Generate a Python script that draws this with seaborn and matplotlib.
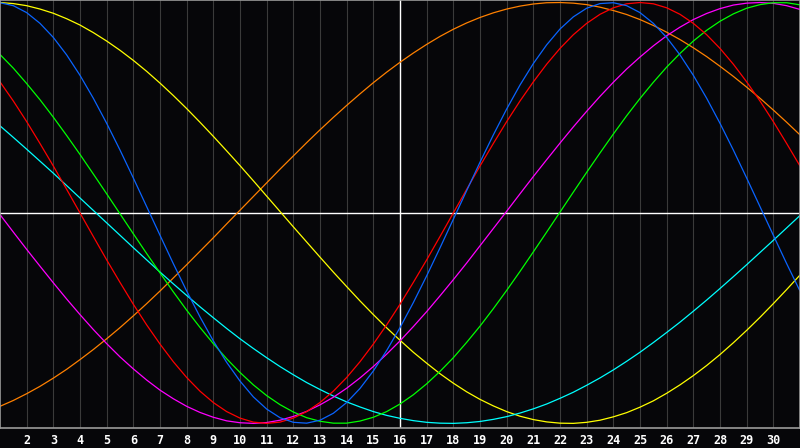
import pandas as pd
import matplotlib
matplotlib.use('Agg')
import matplotlib.pyplot as plt
import seaborn as sns

# half-day steps from day 1 to day 31; cycle values in percent (-100..100)
days = [1 + i / 2 for i in range(61)]

blue = [99.9, 98.5, 95.2, 90.1, 83.4, 75.1, 65.4, 54.5, 42.6, 29.9, 16.6, 3.0, -10.6, -24.1,
        -37.1, -49.4, -60.8, -71.0, -79.9, -87.4, -93.2, -97.3, -99.5, -99.9, -98.5, -95.2,
        -90.1, -83.4, -75.1, -65.4, -54.5, -42.6, -29.9, -16.6, -3.0, 10.6, 24.1, 37.1, 49.4,
        60.8, 71.0, 79.9, 87.4, 93.2, 97.3, 99.5, 99.9, 98.5, 95.2, 90.1, 83.4, 75.1, 65.4,
        54.5, 42.6, 29.9, 16.6, 3.0, -10.6, -24.1, -37.1]
red = [62.3, 53.2, 43.4, 33.0, 22.3, 11.2, 0.0, -11.2, -22.3, -33.0, -43.4, -53.2, -62.3,
       -70.7, -78.2, -84.7, -90.1, -94.4, -97.5, -99.4, -100.0, -99.4, -97.5, -94.4, -90.1,
       -84.7, -78.2, -70.7, -62.3, -53.2, -43.4, -33.0, -22.3, -11.2, 0.0, 11.2, 22.3, 33.0,
       43.4, 53.2, 62.3, 70.7, 78.2, 84.7, 90.1, 94.4, 97.5, 99.4, 100.0, 99.4, 97.5, 94.4,
       90.1, 84.7, 78.2, 70.7, 62.3, 53.2, 43.4, 33.0, 22.3]
green = [75.3, 68.8, 61.5, 53.8, 45.5, 36.8, 27.8, 18.5, 9.1, -0.4, -9.9, -19.3, -28.5, -37.5,
         -46.2, -54.4, -62.1, -69.3, -75.8, -81.7, -86.8, -91.1, -94.6, -97.3, -99.0, -99.9,
         -99.9, -98.9, -97.1, -94.4, -90.8, -86.4, -81.2, -75.3, -68.8, -61.5, -53.8, -45.5,
         -36.8, -27.8, -18.5, -9.1, 0.4, 9.9, 19.3, 28.5, 37.5, 46.2, 54.4, 62.1, 69.3, 75.8,
         81.7, 86.8, 91.1, 94.6, 97.3, 99.0, 99.9, 99.9, 98.9]
cyan = [41.4, 35.9, 30.3, 24.6, 18.9, 13.0, 7.1, 1.2, -4.7, -10.6, -16.5, -22.3, -28.1, -33.7,
        -39.2, -44.6, -49.8, -54.9, -59.8, -64.4, -68.8, -73.0, -76.9, -80.6, -83.9, -87.0,
        -89.8, -92.2, -94.4, -96.2, -97.6, -98.7, -99.5, -99.9, -100.0, -99.7, -99.1, -98.1,
        -96.8, -95.1, -93.1, -90.8, -88.1, -85.2, -81.9, -78.4, -74.6, -70.5, -66.2, -61.6,
        -56.8, -51.9, -46.7, -41.4, -35.9, -30.3, -24.6, -18.8, -13.0, -7.1, -1.2]
magenta = [-0.8, -9.1, -17.3, -25.3, -33.2, -40.9, -48.3, -55.4, -62.1, -68.4, -74.1, -79.4,
           -84.2, -88.3, -91.9, -94.8, -97.1, -98.8, -99.7, -100.0, -99.6, -98.5, -96.7, -94.3,
           -91.2, -87.6, -83.3, -78.4, -73.0, -67.1, -60.8, -54.0, -46.9, -39.4, -31.7, -23.8,
           -15.6, -7.4, 0.8, 9.1, 17.3, 25.3, 33.2, 40.9, 48.3, 55.4, 62.1, 68.4, 74.1, 79.4,
           84.2, 88.3, 91.9, 94.8, 97.1, 98.8, 99.7, 100.0, 99.6, 98.5, 96.7]
orange = [-91.9, -89.1, -85.9, -82.4, -78.5, -74.3, -69.7, -64.9, -59.8, -54.5, -48.9, -43.1,
          -37.1, -30.9, -24.6, -18.2, -11.8, -5.2, 1.3, 7.8, 14.3, 20.8, 27.1, 33.4, 39.5,
          45.4, 51.1, 56.6, 61.9, 66.9, 71.6, 76.0, 80.1, 83.9, 87.3, 90.3, 92.9, 95.1, 96.9,
          98.3, 99.3, 99.9, 100.0, 99.7, 99.0, 97.8, 96.2, 94.3, 91.9, 89.1, 85.9, 82.4, 78.5,
          74.3, 69.7, 64.9, 59.8, 54.5, 48.9, 43.1, 37.1]
yellow = [100.0, 99.5, 98.5, 96.9, 94.9, 92.3, 89.3, 85.7, 81.7, 77.3, 72.5, 67.3, 61.7, 55.8,
          49.6, 43.1, 36.4, 29.5, 22.5, 15.3, 8.0, 0.7, -6.6, -13.8, -21.0, -28.1, -35.0,
          -41.8, -48.3, -54.6, -60.5, -66.2, -71.4, -76.4, -80.9, -85.0, -88.6, -91.7, -94.4,
          -96.6, -98.2, -99.3, -99.9, -100.0, -99.5, -98.5, -96.9, -94.9, -92.3, -89.3, -85.7,
          -81.7, -77.3, -72.5, -67.3, -61.7, -55.8, -49.6, -43.1, -36.4, -29.5]

tick_days = list(range(2, 31))
today = 16

series = {
    'orange': orange, 'yellow': yellow, 'cyan': cyan, 'magenta': magenta,
    'green': green, 'red': red, 'blue': blue,
}
colors = {
    'orange': '#ff8000', 'yellow': '#ffff00', 'cyan': '#00ffff', 'magenta': '#ff00ff',
    'green': '#00ff00', 'red': '#ff0000', 'blue': '#0a64ff',
}

df = pd.concat([pd.DataFrame({'day': days, 'value': v, 'cycle': k}) for k, v in series.items()])

sns.set_style('dark')
bg = '#060609'
fig = plt.figure(figsize=(8, 4.48), dpi=100, facecolor=bg)
ax = fig.add_axes([0, 20 / 448, 1, 428 / 448])
ax.set_facecolor(bg)

# day grid
for d in tick_days:
    ax.axvline(d, color='#3a3a3a', lw=0.8, zorder=0)
ax.axhline(0, color='white', lw=1.0, zorder=1)
ax.axvline(today, color='white', lw=1.0, zorder=1)

sns.lineplot(data=df, x='day', y='value', hue='cycle', palette=colors,
             estimator=None, legend=False, lw=0.9, ax=ax, zorder=2)

ax.set_xlim(1, 31)
ax.set_ylim(-102.2, 101.2)
ax.set_xticks(tick_days)
ax.set_xticklabels([str(d) for d in tick_days], color='white', fontsize=8.5,
                   fontweight='bold', family='DejaVu Sans Mono')
ax.tick_params(axis='x', length=0, pad=4)
ax.set_yticks([])
ax.set_xlabel('')
ax.set_ylabel('')
ax.grid(False)
for s in ax.spines.values():
    s.set_visible(True)
    s.set_color('#9a9a9a')
    s.set_linewidth(1.2)

fig.savefig('out.png', dpi=100, facecolor=bg)
